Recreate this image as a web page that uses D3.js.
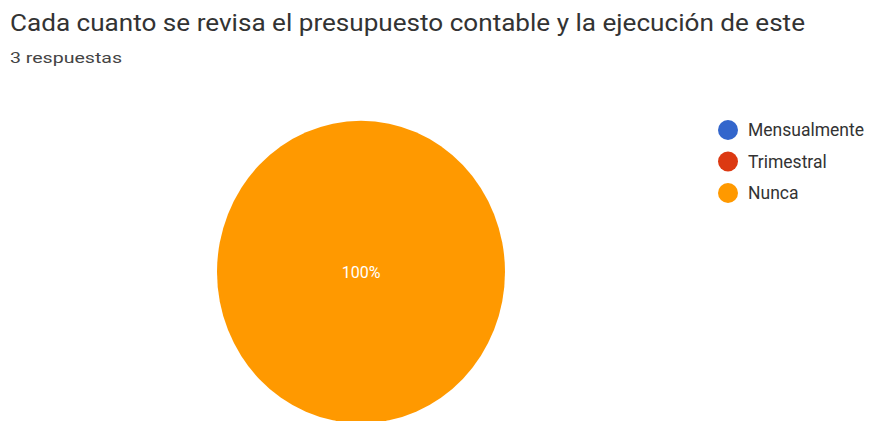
<!DOCTYPE html>
<html><head><meta charset="utf-8">
<script src="https://cdn.jsdelivr.net/npm/d3@7"></script>
<style>body{margin:0;background:#fff;}svg{display:block;font-family:Roboto,Arial,sans-serif;}</style>
</head><body>
<svg id="c" width="876" height="421"></svg>
<script>
const categories = ["Mensualmente", "Trimestral", "Nunca"];
const values = [0, 0, 3];
const colors = ["#3366cc", "#dc3912", "#ff9900"];
const titleText = "Cada cuanto se revisa el presupuesto contable y la ejecución de este";
const subtitleText = "3 respuestas";

const svg = d3.select("#c");
svg.append("text").attr("x", 10).attr("y", 31).attr("font-size", 23).attr("fill", "#333")
  .attr("textLength", 795).attr("lengthAdjust", "spacingAndGlyphs").text(titleText);
svg.append("text").attr("x", 10).attr("y", 63).attr("font-size", 14).attr("fill", "#444")
  .attr("textLength", 112).attr("lengthAdjust", "spacingAndGlyphs").text(subtitleText);

const total = d3.sum(values);
const pie = d3.pie().sort(null).value(d => d.v);
const data = categories.map((c, i) => ({c, v: values[i], col: colors[i]}));
const arcs = pie(data);
const r = 144;
const arc = d3.arc().innerRadius(0).outerRadius(r);
const g = svg.append("g").attr("transform", "translate(361,272) scale(1,1.05)");
g.selectAll("path").data(arcs.filter(a => a.data.v > 0)).enter().append("path")
  .attr("d", arc).attr("fill", a => a.data.col);
const lab = svg.append("g").attr("transform", "translate(361,272)");
arcs.filter(a => a.data.v > 0).forEach(a => {
  const frac = a.data.v / total;
  const pos = frac === 1 ? [0, 0] : d3.arc().innerRadius(r * 0.6).outerRadius(r * 0.6).centroid(a);
  lab.append("text").attr("x", pos[0]).attr("y", pos[1]).attr("dy", "0.35em")
    .attr("text-anchor", "middle").attr("font-size", 16).attr("fill", "#fff")
    .text(Math.round(frac * 100) + "%");
});

const leg = svg.append("g");
data.forEach((d, i) => {
  const y = 130 + i * 31.5;
  leg.append("circle").attr("cx", 728).attr("cy", y).attr("r", 10).attr("fill", d.col);
  leg.append("text").attr("x", 748).attr("y", y).attr("dy", "0.35em").attr("font-size", 17.5)
    .attr("fill", "#333").text(d.c);
});
</script>
</body></html>
